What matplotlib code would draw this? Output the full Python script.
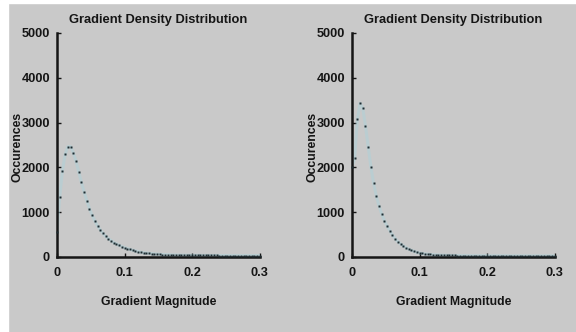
import numpy as np
import matplotlib
matplotlib.use('Agg')
import matplotlib.pyplot as plt
from matplotlib.patches import Rectangle

# bin centres of the gradient histogram
grad_bins = np.round(np.arange(0, 0.3001, 0.004), 3)

left_counts = [565, 1347, 1925, 2290, 2462, 2462, 2330, 2140, 1905, 1667,
               1458, 1257, 1079, 930, 804, 692, 603, 528, 461, 409,
               365, 320, 290, 260, 231, 208, 188, 168, 150, 134,
               120, 107, 96, 88, 80, 74, 68, 63, 59, 55,
               52, 49, 47, 45, 43, 42, 41, 40, 39, 38,
               37, 36, 36, 35, 35, 34, 34, 33, 33, 33,
               32, 32, 32, 31, 31, 31, 30, 30, 30, 30,
               30, 30, 30, 30, 30, 30]

right_counts = [2000, 2200, 3070, 3430, 3320, 2930, 2460, 2016, 1644, 1362,
                1138, 960, 811, 692, 588, 491, 409, 342, 290, 246,
                208, 171, 149, 126, 104, 89, 78, 69, 62, 56,
                51, 47, 44, 41, 39, 37, 35, 34, 33, 32,
                31, 30, 30, 29, 29, 28, 28, 28, 27, 27,
                27, 27, 26, 26, 26, 26, 26, 26, 25, 25,
                25, 25, 25, 25, 25, 25, 25, 25, 25, 25,
                25, 25, 25, 25, 25, 25]

titles = ['Gradient Density Distribution', 'Gradient Density Distribution']
xlabel = 'Gradient Magnitude'
ylabel = 'Occurences'
xticks = [0, 0.1, 0.2, 0.3]
xticklabels = ['0', '0.1', '0.2', '0.3']
yticks = [0, 1000, 2000, 3000, 4000, 5000]

bg = '#c9c9c9'
ink = '#151515'
font = ['Liberation Sans', 'DejaVu Sans']

fig = plt.figure(figsize=(5.76, 3.32), dpi=100)
fig.patch.set_facecolor(bg)
# white page margin from the screenshot
fig.patches.append(Rectangle((0, 0.991), 1, 0.009, transform=fig.transFigure, color='white', zorder=0))
fig.patches.append(Rectangle((0, 0), 0.014, 1, transform=fig.transFigure, color='white', zorder=0))

axes = [fig.add_axes([0.099, 0.226, 0.352, 0.675]),
        fig.add_axes([0.611, 0.226, 0.352, 0.675])]

for ax, counts, title in zip(axes, [left_counts, right_counts], titles):
    ax.set_facecolor(bg)
    ax.plot(grad_bins, counts, color='#a9d3dc', lw=2.2, alpha=0.45, zorder=2)
    ax.plot(grad_bins, counts, ls='none', marker='s', ms=1.8, mec='none',
            color='#1d2b30', zorder=3, clip_on=False)
    ax.set_xlim(0, 0.3)
    ax.set_ylim(0, 5000)
    ax.set_xticks(xticks)
    ax.set_xticklabels(xticklabels)
    ax.set_yticks(yticks)
    for s in ['top', 'right']:
        ax.spines[s].set_visible(False)
    for s in ['left', 'bottom']:
        ax.spines[s].set_linewidth(1.8)
        ax.spines[s].set_color(ink)
    ax.tick_params(direction='in', length=3, width=1, colors=ink)
    ax.tick_params(axis='x', pad=7)
    ax.tick_params(axis='y', pad=5)
    for lab in ax.get_xticklabels() + ax.get_yticklabels():
        lab.set_family(font)
        lab.set_fontweight('bold')
        lab.set_fontsize(9.2)
    ax.set_title(title, family=font, fontweight='bold', fontsize=9.3, color=ink, pad=7)
    ax.set_xlabel(xlabel, family=font, fontweight='bold', fontsize=8.8, color=ink)
    ax.set_ylabel(ylabel, family=font, fontweight='bold', fontsize=8.8, color=ink)
    ax.xaxis.set_label_coords(0.5, -0.172)
    ax.yaxis.set_label_coords(-0.165, 0.49)

fig.savefig('out.png', dpi=100, facecolor=fig.get_facecolor())
